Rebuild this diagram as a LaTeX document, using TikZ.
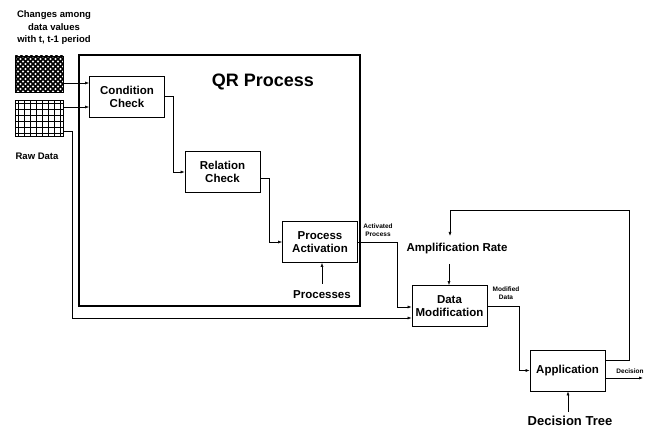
\documentclass[tikz,border=0pt]{standalone}
\usepackage{fontspec}
\setmainfont{Liberation Sans}
\usetikzlibrary{arrows.meta,positioning}

\tikzset{
  blk/.style={draw, line width=0.8pt, minimum width=75pt, minimum height=41pt, align=center, inner sep=1pt, font=\bfseries\fontsize{11.5}{13}\selectfont},
  lbl/.style={align=center, inner sep=1pt, font=\bfseries\fontsize{11.5}{13}\selectfont},
  small/.style={align=center, inner sep=0pt, font=\bfseries\fontsize{6.5}{8}\selectfont},
  conn/.style={-{Latex[length=4pt,width=3pt]}, line width=0.6pt},
  link/.style={line width=0.6pt}
}

\begin{document}
\begin{tikzpicture}[x=1pt, y=-1pt]
  \useasboundingbox (0,0) rectangle (654,430);

  %%%%% INPUTS %%%%%
  \node (chg) [lbl, font=\bfseries\fontsize{9.5}{12.5}\selectfont] at (54,28) {Changes among\\data values\\with t, t-1 period};
  \node (hatch) [draw, line width=0.8pt, minimum width=48pt, minimum height=36pt, inner sep=0pt,
    path picture={
      \foreach \k in {0,5,...,90}{
        \draw[line width=1.6pt] ([xshift=\k pt-40pt]path picture bounding box.south west) -- ++(40pt,40pt);
        \draw[line width=1.6pt] ([xshift=\k pt-40pt]path picture bounding box.north west) -- ++(40pt,-40pt);
      }
    }] at (39,74) {};
  \node (grid) [draw, line width=0.8pt, minimum width=48pt, minimum height=36pt, inner sep=0pt,
    path picture={
      \foreach \k in {3,9,...,45}
        \draw[line width=0.9pt] ([xshift=\k pt]path picture bounding box.south west) -- ++(0pt,36pt);
      \foreach \k in {3,9,...,33}
        \draw[line width=0.9pt] ([yshift=\k pt]path picture bounding box.south west) -- ++(48pt,0pt);
    }] at (39,118) {};
  \node (raw) [lbl, font=\bfseries\fontsize{9.5}{11}\selectfont] at (37,156) {Raw Data};

  %%%%% QR PROCESS %%%%%
  \node (qr) [draw, line width=1.2pt, minimum width=281pt, minimum height=251pt, inner sep=0pt] at (219.5,180.5) {};
  \node (title) [lbl, font=\bfseries\fontsize{18}{21}\selectfont] at (263,82) {QR Process};

  \node (cond) [blk] at (127,96.5) {Condition\\Check};
  \node (rel) [blk] at (222.5,172) {Relation\\Check};
  \node (act) [blk] at (320,242) {Process\\Activation};
  \node (proc) [lbl] at (322,295) {Processes};

  %%%%% OUTSIDE %%%%%
  \node (amp) [lbl] at (457,249) {Amplification Rate};
  \node (mod) [blk] at (449.5,306) {Data\\Modification};
  \node (app) [blk] at (567.5,370.5) {Application};
  \node (tree) [lbl, font=\bfseries\fontsize{13}{15}\selectfont] at (570,421) {Decision Tree};

  \node (actlbl) [small] at (378,230) {Activated\\Process};
  \node (modlbl) [small] at (506,293) {Modified\\Data};
  \node (declbl) [small] at (630,371) {Decision};

  %%%%% CONNECTORS %%%%%
  \draw[conn] (hatch.east |- 0,83) -- (cond.west |- 0,83);
  \draw[conn] (grid.east |- 0,107) -- (cond.west |- 0,107);
  \draw[conn] (cond.east) -- (173,96.5) |- (rel.west);
  \draw[conn] (rel.east |- 0,178) -- (269,178) |- (act.west);
  \draw[conn] (act.east) -- (397,242) |- (mod.west |- 0,307);
  \draw[conn] (grid.east |- 0,131) -- (72,131) |- (mod.west |- 0,318);
  \draw[conn] ([yshift=6pt]proc.north) -- (proc.north |- act.south);
  \draw[conn] (449,264) -- (449,0 |- mod.north);
  \draw[conn] (mod.east) -- (519,306) |- (app.west);
  \draw[conn] (app.east |- 0,360) -- (629,360) -- (629,210) -| (450,236);
  \draw[conn] (app.east |- 0,378) -- (643,378);
  \draw[conn] (568,412) -- (568,0 |- app.south);
\end{tikzpicture}
\end{document}
